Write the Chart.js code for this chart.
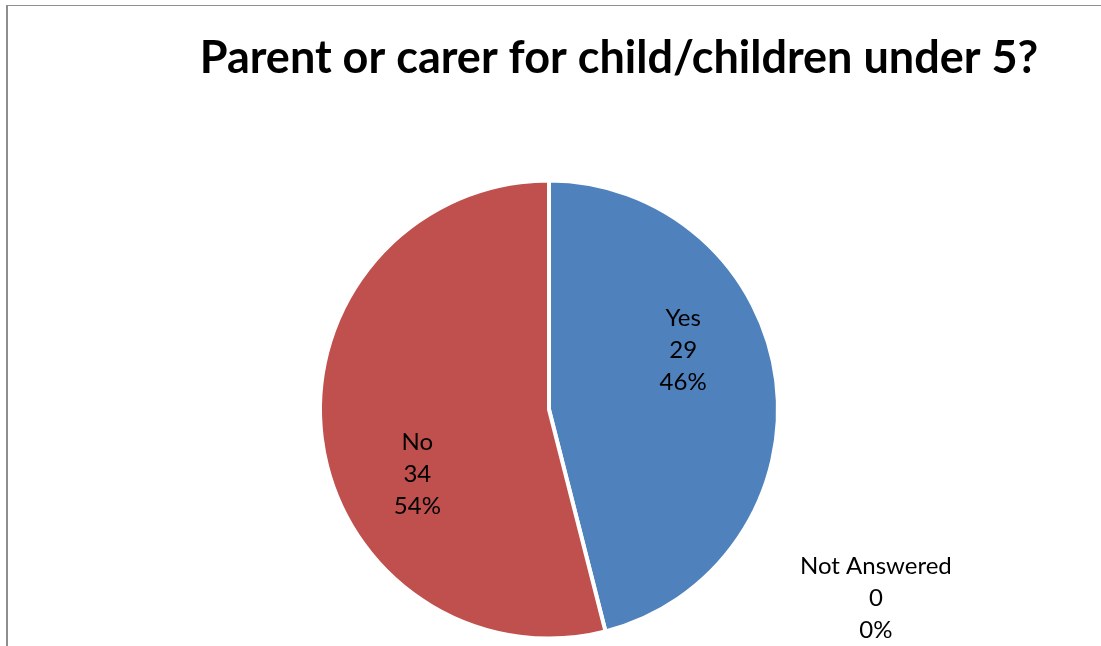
<!DOCTYPE html>
<html lang="en">
<head>
<meta charset="UTF-8">
<title>Parent or carer for child/children under 5?</title>
<script src="https://cdn.jsdelivr.net/npm/chart.js@4/dist/chart.umd.min.js"></script>
<style>
  * { box-sizing: border-box; margin: 0; padding: 0; }
  html, body { width: 1101px; height: 646px; background: #ffffff; overflow: hidden; }
  .frame { position: absolute; left: 6px; top: 5px; width: 1095px; height: 641px; border-left: 2px solid #8e8e8e; border-top: 1px solid #8e8e8e; }
  .wrap { position: absolute; left: 0; top: 0; width: 1101px; height: 646px; }
</style>
</head>
<body>
<div class="frame"></div>
<div class="wrap"><canvas id="chart"></canvas></div>
<script>
const TITLE = 'Parent or carer for child/children under 5?'
const categories = ['Yes', 'No', 'Not Answered']
const counts = [29, 34, 0]
const percents = ['46%', '54%', '0%']
const colors = ['#4f81bd', '#c0504d', '#9bbb59']

// label placement: angle shift from slice middle (radians) and distance as a share of the radius
const labelSpots = [
  { shift: -0.29, dist: 0.64 },
  { shift: -0.33, dist: 0.64 },
  { shift: 2.094, dist: 1.648 }
]

const titlePlugin = {
  id: 'excelTitle',
  afterDraw(chart) {
    const ctx = chart.ctx
    ctx.save()
    ctx.fillStyle = '#000000'
    ctx.font = 'bold 45px Lato, "Open Sans", sans-serif'
    ctx.textAlign = 'center'
    ctx.textBaseline = 'middle'
    ctx.fillText(TITLE, 619, 58)
    ctx.restore()
  }
}

const labelPlugin = {
  id: 'sliceLabels',
  afterDatasetsDraw(chart) {
    const ctx = chart.ctx
    const meta = chart.getDatasetMeta(0)
    ctx.save()
    ctx.fillStyle = '#000000'
    ctx.font = '24px Lato, "Open Sans", sans-serif'
    ctx.textAlign = 'center'
    ctx.textBaseline = 'middle'
    meta.data.forEach((arc, i) => {
      const p = arc.getProps(['x', 'y', 'startAngle', 'endAngle', 'outerRadius'], true)
      const ang = (p.startAngle + p.endAngle) / 2 + labelSpots[i].shift
      const r = p.outerRadius * labelSpots[i].dist
      const cx = p.x + Math.cos(ang) * r
      const cy = p.y + Math.sin(ang) * r
      const lines = [categories[i], String(counts[i]), percents[i]]
      lines.forEach((t, k) => ctx.fillText(t, cx, cy + (k - 1) * 32))
    })
    ctx.restore()
  }
}

new Chart(document.getElementById('chart'), {
  type: 'pie',
  data: {
    labels: categories,
    datasets: [{
      data: counts,
      backgroundColor: colors,
      borderColor: '#ffffff',
      borderWidth: 4
    }]
  },
  options: {
    responsive: true,
    maintainAspectRatio: false,
    animation: false,
    layout: { padding: { left: 318, right: 321, top: 178.5, bottom: 5.5 } },
    plugins: {
      legend: { display: false },
      tooltip: { enabled: false },
      title: { display: false }
    }
  },
  plugins: [titlePlugin, labelPlugin]
})
</script>
</body>
</html>
